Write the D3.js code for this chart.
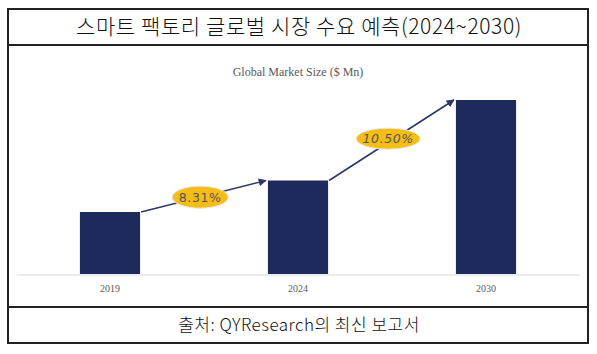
<!DOCTYPE html>
<html>
<head>
<meta charset="utf-8">
<script src="https://cdn.jsdelivr.net/npm/d3@7"></script>
<style>
  body { margin: 0; background: #fff; }
  .frame { fill: none; stroke: #222; stroke-width: 2; }
  .title { font-family: "Noto Sans CJK KR", sans-serif; font-weight: 300; fill: #111; }
  .axis text { font-family: "Liberation Serif", serif; font-size: 10px; fill: #595959; }
  .axis path, .axis line { stroke: #d9d9d9; }
</style>
</head>
<body>
<svg width="597" height="354"></svg>
<script>
var years = ['2019', '2024', '2030'];
var sizes = [620, 935, 1740];
var cagrLabels = ['8.31%', '10.50%'];

var svg = d3.select('svg');

// outer box and the two row dividers
svg.append('rect').attr('class', 'frame')
    .attr('x', 8).attr('y', 9).attr('width', 580).attr('height', 334);
svg.append('line').attr('class', 'frame')
    .attr('x1', 8).attr('x2', 588).attr('y1', 45).attr('y2', 45);
svg.append('line').attr('class', 'frame')
    .attr('x1', 8).attr('x2', 588).attr('y1', 307).attr('y2', 307);

svg.append('text')
    .attr('class', 'title')
    .attr('x', 299).attr('y', 34)
    .attr('text-anchor', 'middle')
    .style('font-size', '21px')
    .style('letter-spacing', '0.6px')
    .text('스마트 팩토리 글로벌 시장 수요 예측(2024~2030)');

svg.append('text')
    .attr('class', 'title')
    .attr('x', 299).attr('y', 331)
    .attr('text-anchor', 'middle')
    .style('font-size', '17px')
    .style('letter-spacing', '0.5px')
    .text('출처: QYResearch의 최신 보고서');

svg.append('text')
    .attr('x', 298).attr('y', 76)
    .attr('text-anchor', 'middle')
    .style('font-family', '"Liberation Serif", serif')
    .style('font-size', '12px')
    .style('fill', '#595959')
    .text('Global Market Size ($ Mn)');

var xScale = d3.scaleBand()
    .domain(years)
    .range([16, 580])
    .paddingInner(0.68)
    .paddingOuter(0.34);

var yScale = d3.scaleLinear()
    .domain([0, 2000])
    .range([274, 74]);

var data = years.map(function(y, i){ return { year: y, size: sizes[i] }; });

svg.selectAll('rect.bar')
    .data(data)
    .enter()
    .append('rect')
    .attr('class', 'bar')
    .attr('x', function(d){ return xScale(d.year); })
    .attr('y', function(d){ return yScale(d.size); })
    .attr('width', xScale.bandwidth())
    .attr('height', function(d){ return yScale(0) - yScale(d.size); })
    .style('fill', '#1f2a5c');

var xAxis = d3.axisBottom(xScale).tickSize(0).tickPadding(10);

svg.append('g')
    .attr('class', 'axis')
    .attr('transform', 'translate(0,274.5)')
    .call(xAxis);

// growth arrows between bar tops
svg.append('defs').append('marker')
    .attr('id', 'head')
    .attr('viewBox', '0 0 10 10')
    .attr('refX', 9).attr('refY', 5)
    .attr('markerWidth', 5).attr('markerHeight', 5)
    .attr('orient', 'auto')
    .append('path')
    .attr('d', 'M0,0 L10,5 L0,10 z')
    .style('fill', '#2b3768');

var arrows = d3.range(data.length - 1).map(function(i){
    return { from: data[i], to: data[i + 1], label: cagrLabels[i] };
});

svg.selectAll('line.arrow')
    .data(arrows)
    .enter()
    .append('line')
    .attr('class', 'arrow')
    .attr('x1', function(d){ return xScale(d.from.year) + xScale.bandwidth() + 1; })
    .attr('y1', function(d){ return yScale(d.from.size); })
    .attr('x2', function(d){ return xScale(d.to.year) - 2; })
    .attr('y2', function(d){ return yScale(d.to.size); })
    .style('stroke', '#2b3768')
    .style('stroke-width', 1.6)
    .attr('marker-end', 'url(#head)');

var badge = svg.selectAll('g.badge')
    .data(arrows)
    .enter()
    .append('g')
    .attr('class', 'badge')
    .attr('transform', function(d, i){
        var x1 = xScale(d.from.year) + xScale.bandwidth();
        var x2 = xScale(d.to.year);
        var y1 = yScale(d.from.size), y2 = yScale(d.to.size);
        var t = 0.47;
        var dy = i === 0 ? 0 : -4;
        return 'translate(' + (x1 + (x2 - x1) * t) + ',' + (y1 + (y2 - y1) * t + dy) + ')';
    });

badge.append('ellipse')
    .attr('rx', function(d, i){ return i === 0 ? 28 : 32; })
    .attr('ry', function(d, i){ return i === 0 ? 11 : 10.5; })
    .style('fill', '#f6bd16')
    .style('stroke', '#e8e8e8')
    .style('stroke-width', 1);

badge.append('text')
    .attr('text-anchor', 'middle')
    .attr('dy', '0.36em')
    .style('font-family', '"DejaVu Sans", sans-serif')
    .style('font-style', function(d, i){ return i === 0 ? 'normal' : 'italic'; })
    .style('font-size', '12.5px')
    .style('letter-spacing', '0.6px')
    .style('fill', '#555')
    .text(function(d){ return d.label; });
</script>
</body>
</html>
